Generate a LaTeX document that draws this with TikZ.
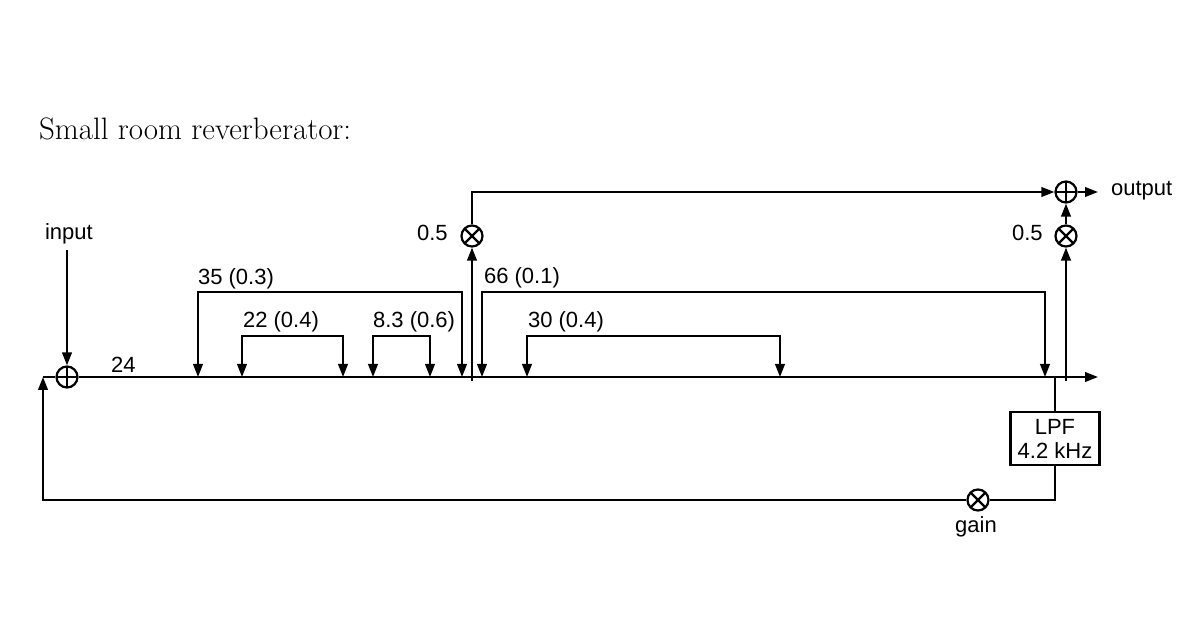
\documentclass[tikz,border=0pt]{standalone}
\usepackage{fontspec}
\setsansfont{Liberation Sans}
\usetikzlibrary{arrows.meta}
\begin{document}
\begin{tikzpicture}[x=0.5pt,y=-0.5pt,line width=1.1pt,
  >={Triangle[length=6.5pt,width=4.8pt]},
  lbl/.style={font=\sffamily\fontsize{11}{13}\selectfont,inner sep=0pt},
  mult/.style={circle,draw,minimum size=10.5pt,inner sep=0pt,
    path picture={\draw[line width=1.1pt] (path picture bounding box.north west)--(path picture bounding box.south east)
      (path picture bounding box.north east)--(path picture bounding box.south west);}},
  summ/.style={circle,draw,minimum size=10.5pt,inner sep=0pt,
    path picture={\draw[line width=1.1pt] (path picture bounding box.north)--(path picture bounding box.south)
      (path picture bounding box.east)--(path picture bounding box.west);}},
  filt/.style={draw,minimum width=44.5pt,minimum height=26.5pt,align=center,inner sep=1pt,
    font=\sffamily\fontsize{11}{12}\selectfont}]
\useasboundingbox (0,0) rectangle (1200,630);

% title
\node[anchor=base west,inner sep=0pt,font=\fontsize{15.5}{18}\selectfont] (title) at (38,140) {Small room reverberator:};

% main nodes
\coordinate (fb) at (43,377);
\node[summ] (s1) at (67,377) {};
\coordinate (mainend) at (1098,377);
\node[lbl,anchor=base west] (inlbl) at (44,240) {input};
\coordinate (intop) at (67,250);
\node[lbl,anchor=base west] (l24) at (110,373) {24};

% main line
\draw (fb) -- (s1);
\draw[->] (s1) -- (mainend);
\draw[->] (intop) -- (s1);

% all-pass taps
\coordinate (a1) at (198,377); \coordinate (a2) at (462,377); \coordinate (h1) at (0,292);
\coordinate (b1) at (242,377); \coordinate (b2) at (343,377); \coordinate (h2) at (0,336);
\coordinate (c1) at (373,377); \coordinate (c2) at (430,377);
\coordinate (d1) at (482,377); \coordinate (d2) at (1045,377);
\coordinate (e1) at (527,377); \coordinate (e2) at (780,377);
\draw[<->] (a1) |- (h1 -| a2) -- (a2);
\draw[<->] (b1) |- (h2 -| b2) -- (b2);
\draw[<->] (c1) |- (h2 -| c2) -- (c2);
\draw[<->] (d1) |- (h1 -| d2) -- (d2);
\draw[<->] (e1) |- (h2 -| e2) -- (e2);
\node[lbl,anchor=base west] (la) at (197,285) {35 (0.3)};
\node[lbl,anchor=base west] (lb) at (242,328) {22 (0.4)};
\node[lbl,anchor=base west] (lc) at (372,328) {8.3 (0.6)};
\node[lbl,anchor=base west] (ld) at (483,284) {66 (0.1)};
\node[lbl,anchor=base west] (le) at (527,328) {30 (0.4)};

% output taps
\coordinate (t1) at (472,381);
\node[mult] (m1) at (472,236) {};
\node[lbl,anchor=base west] (g1) at (416,241) {0.5};
\coordinate (t2) at (1066,381);
\node[mult] (m2) at (1066,236) {};
\node[lbl,anchor=base west] (g2) at (1011,241) {0.5};
\node[summ] (s2) at (1066,192) {};
\coordinate (outtip) at (1098,192);
\node[lbl,anchor=base west] (outlbl) at (1110,196) {output};
\draw[->] (t1) -- (m1);
\draw[->] (m1) |- (s2);
\draw[->] (t2) -- (m2);
\draw[->] (m2) -- (s2);
\draw[->] (s2) -- (outtip);

% feedback
\coordinate (ftap) at (1055,377);
\node[filt] (lpf) at (1055,438.5) {LPF\\4.2 kHz};
\node[mult] (gm) at (978,500) {};
\node[lbl,anchor=base] (gainlbl) at (976,533) {gain};
\draw (ftap) -- (lpf);
\draw (lpf) |- (gm);
\draw[->] (gm) -| (fb);
\end{tikzpicture}
\end{document}
